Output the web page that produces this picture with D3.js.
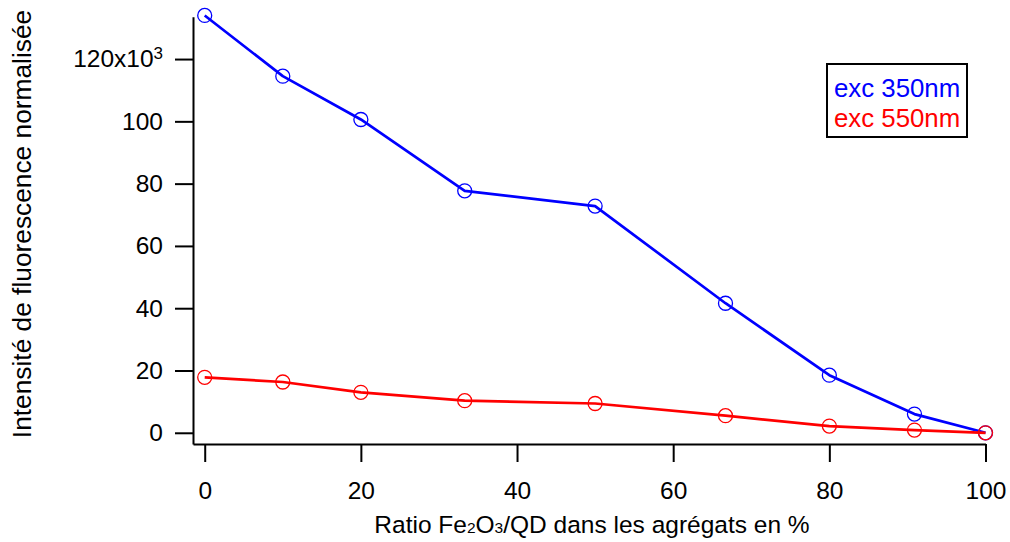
<!DOCTYPE html>
<html>
<head>
<meta charset="utf-8">
<script src="https://cdn.jsdelivr.net/npm/d3@7"></script>
<style>
  html, body { margin: 0; padding: 0; background: #fff; }
  svg { display: block; font-family: "Liberation Sans", Arial, sans-serif; }
</style>
</head>
<body>
<svg id="chart" width="1010" height="542"></svg>
<script>
// Data
const ratios = [0, 10, 20, 33.3, 50, 66.7, 80, 90.9, 100];
const exc350 = [134.0, 114.5, 100.6, 77.7, 72.8, 41.6, 18.5, 6.0, 0.0];
const exc550 = [17.8, 16.3, 13.0, 10.3, 9.4, 5.5, 2.15, 0.87, 0.0];
const seriesNames = ["exc 350nm", "exc 550nm"];
const seriesColors = ["#0000ff", "#ff0000"];
const xTicks = [0, 20, 40, 60, 80, 100];
const yTicks = [0, 20, 40, 60, 80, 100, 120];

const svg = d3.select("#chart");

const x = d3.scaleLinear().domain([-1.5, 100]).range([193, 985.5]);
const y = d3.scaleLinear().domain([-3.6, 133.6]).range([444, 16.7]);

// Axes
const yAxis = d3.axisLeft(y)
  .tickValues(yTicks)
  .tickSize(18)
  .tickSizeOuter(0)
  .tickPadding(12)
  .tickFormat(d => d === 120 ? "120x10" : String(d));

const gy = svg.append("g").attr("transform", "translate(193,0)").call(yAxis);
gy.select(".domain").attr("stroke", "#000").attr("stroke-width", 2);
gy.selectAll(".tick line").attr("stroke", "#000").attr("stroke-width", 2);
gy.selectAll(".tick text").attr("font-size", 24.5).attr("fill", "#000")
  .attr("font-family", "'Liberation Sans', Arial, sans-serif");
gy.selectAll(".tick text").filter(d => d === 120).each(function() {
  d3.select(this).append("tspan").attr("dy", "-0.5em").attr("font-size", 17).text("3");
});

const xAxis = d3.axisBottom(x)
  .tickValues(xTicks)
  .tickSize(18)
  .tickSizeOuter(0)
  .tickPadding(20);
const gx = svg.append("g").attr("transform", "translate(0,444)").call(xAxis);
gx.select(".domain").attr("stroke", "#000").attr("stroke-width", 2);
gx.selectAll(".tick line").attr("stroke", "#000").attr("stroke-width", 2);
gx.selectAll(".tick text").attr("font-size", 24.5).attr("fill", "#000")
  .attr("font-family", "'Liberation Sans', Arial, sans-serif");

// Axis titles
const xt = svg.append("text")
  .attr("x", 592).attr("y", 533)
  .attr("text-anchor", "middle")
  .attr("font-size", 24.5)
  .attr("fill", "#000");
xt.append("tspan").text("Ratio Fe");
xt.append("tspan").attr("font-size", 15.5).text("2");
xt.append("tspan").text("O");
xt.append("tspan").attr("font-size", 15.5).text("3");
xt.append("tspan").text("/QD dans les agrégats en %");

svg.append("text")
  .attr("transform", "translate(31,224) rotate(-90)")
  .attr("text-anchor", "middle")
  .attr("font-size", 26.3)
  .attr("fill", "#000")
  .text("Intensité de fluorescence normalisée");

// Series
const line = d3.line().x(d => x(d[0])).y(d => y(d[1]));
[exc350, exc550].forEach((vals, i) => {
  const pts = ratios.map((r, j) => [r, vals[j]]);
  svg.append("path")
    .attr("d", line(pts))
    .attr("fill", "none")
    .attr("stroke", seriesColors[i])
    .attr("stroke-width", 2.7)
    .attr("stroke-linejoin", "round");
  svg.append("g").selectAll("circle")
    .data(pts).join("circle")
    .attr("cx", d => x(d[0]))
    .attr("cy", d => y(d[1]))
    .attr("r", 7)
    .attr("fill", "none")
    .attr("stroke", seriesColors[i])
    .attr("stroke-width", 1.3);
});

// Legend
const lg = svg.append("g");
lg.append("rect")
  .attr("x", 827).attr("y", 64).attr("width", 140).attr("height", 73)
  .attr("fill", "#fff").attr("stroke", "#000").attr("stroke-width", 2);
seriesNames.forEach((n, i) => {
  lg.append("text")
    .attr("x", 834).attr("y", 97 + i * 30)
    .attr("font-size", 25.8)
    .attr("fill", seriesColors[i])
    .text(n);
});
</script>
</body>
</html>
